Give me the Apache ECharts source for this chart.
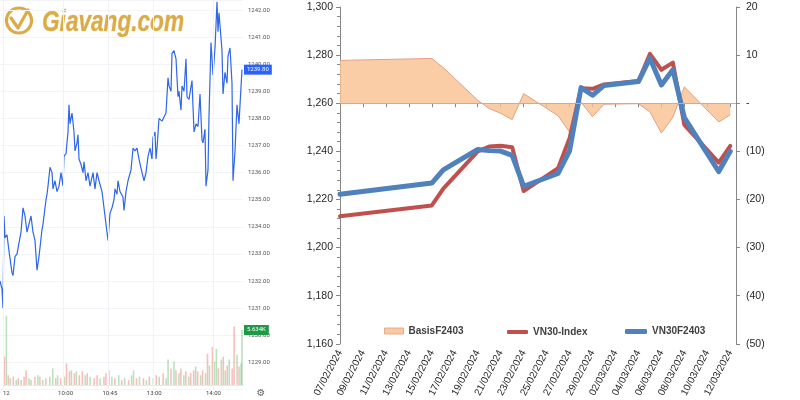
<!DOCTYPE html>
<html><head><meta charset="utf-8">
<script src="https://cdn.jsdelivr.net/npm/echarts@6/dist/echarts.min.js"></script>
<style>html,body{margin:0;padding:0;background:#fff}#c{width:800px;height:400px}</style>
</head><body><div id="c"></div>
<script>
// ---------- Right chart data ----------
const TICK_LABELS = ['07/02/2024','09/02/2024','11/02/2024','13/02/2024','15/02/2024','17/02/2024','19/02/2024','21/02/2024','23/02/2024','25/02/2024','27/02/2024','29/02/2024','02/03/2024','04/03/2024','06/03/2024','08/03/2024','10/03/2024','12/03/2024'];
const DATES = ['07/02/2024','15/02/2024','16/02/2024','19/02/2024','20/02/2024','21/02/2024','22/02/2024','23/02/2024','26/02/2024','27/02/2024','28/02/2024','29/02/2024','01/03/2024','04/03/2024','05/03/2024','06/03/2024','07/03/2024','08/03/2024','11/03/2024','12/03/2024'];
const VN30_INDEX = [1213.0,1217.5,1224.5,1240.0,1242.0,1242.3,1241.7,1223.5,1233.0,1245.5,1266.2,1266.0,1267.8,1269.2,1280.5,1273.9,1276.9,1251.0,1235.3,1242.3];
const VN30F2403 = [1222.2,1226.8,1232.3,1240.8,1240.3,1240.1,1238.3,1225.5,1230.8,1240.2,1266.5,1263.3,1267.4,1269.0,1278.7,1267.6,1273.9,1254.0,1231.6,1240.0];
const BASIS = [8.9,9.3,7.4,0.6,-1.1,-2.1,-3.4,2.0,-2.6,-6.0,0.2,-2.8,-0.2,-0.1,-1.8,-6.2,-2.9,3.4,-3.9,-2.4];

// ---------- Left (intraday) data ----------
const TIME_TICKS = [0,60,105,150,210];
const TIME_LABELS = ['12','10:00','10:45','13:00','14:00'];
const INTRADAY = [[-3,1232.0],[-1,1231.7],[0,1231.0],[1,1234.4],[2,1233.6],[4,1233.7],[6,1233.1],[9,1232.3],[10,1232.2],[12,1232.9],[14,1233.0],[15,1233.0],[18,1233.8],[20,1234.7],[22,1234.4],[24,1233.8],[28,1234.4],[30,1233.8],[32,1233.5],[34,1232.4],[36,1232.9],[39,1233.9],[40,1234.1],[43,1235.0],[44,1235.2],[45,1235.5],[47,1236.2],[49,1236.0],[50,1235.4],[52,1235.7],[54,1235.3],[56,1235.5],[58,1236.0],[60,1235.5],[61,1236.6],[63,1236.7],[65,1237.5],[66,1238.5],[67,1237.8],[69,1238.2],[71,1237.5],[72,1236.8],[74,1237.1],[75,1237.4],[76,1236.5],[78,1236.3],[80,1236.0],[81,1236.4],[83,1235.7],[85,1236.0],[87,1235.5],[90,1236.0],[92,1235.4],[94,1236.0],[96,1235.7],[99,1235.3],[100,1235.0],[103,1234.1],[105,1233.5],[107,1234.5],[109,1234.7],[111,1235.0],[112,1235.4],[114,1235.2],[115,1235.7],[117,1235.3],[120,1235.1],[121,1234.6],[123,1235.3],[125,1235.7],[128,1236.1],[130,1236.9],[132,1236.8],[134,1236.9],[136,1236.5],[139,1236.0],[141,1235.7],[143,1236.0],[145,1236.6],[147,1236.9],[149,1236.5],[150,1237.3],[152,1237.5],[153,1236.5],[154,1236.9],[156,1238.0],[159,1237.9],[161,1237.9],[163,1238.2],[165,1239.5],[166,1239.2],[168,1239.0],[169,1240.4],[171,1240.5],[173,1240.2],[175,1238.8],[176,1239.0],[178,1238.3],[179,1239.2],[181,1239.0],[183,1240.2],[184,1238.8],[186,1238.7],[188,1238.7],[189,1239.4],[191,1237.5],[193,1237.8],[195,1237.7],[197,1238.9],[199,1237.2],[200,1237.1],[202,1237.6],[203,1235.5],[205,1236.1],[206,1238.1],[208,1240.8],[210,1239.6],[212,1240.6],[214,1242.3],[215,1241.2],[216,1241.9],[219,1240.5],[220,1238.9],[222,1239.7],[224,1239.3],[225,1240.3],[227,1240.6],[229,1239.3],[230,1235.7],[232,1236.8],[234,1238.5],[236,1237.8],[237,1238.5],[239,1239.8]];
// [minute, volume (K), direction 1=up -1=down]
const VOLUME = [[-2,2.9,-1],[0,7.1,1],[2,1.0,-1],[4,0.7,1],[7,0.85,-1],[10,0.5,1],[12,0.7,-1],[15,0.5,1],[18,0.85,-1],[20,1.5,-1],[23,0.7,1],[25,0.5,1],[29,0.85,-1],[32,1.0,1],[34,0.85,-1],[37,0.5,1],[40,0.7,-1],[44,0.85,1],[47,1.7,1],[50,0.7,-1],[52,1.0,1],[55,0.7,-1],[59,0.85,1],[61,2.2,-1],[64,1.4,-1],[66,1.5,1],[69,1.2,-1],[71,1.4,1],[74,1.0,-1],[77,1.4,-1],[80,1.0,1],[82,1.2,-1],[85,0.85,1],[89,0.7,-1],[92,1.0,-1],[95,0.7,1],[99,0.85,-1],[101,1.2,-1],[104,1.5,-1],[107,0.85,1],[110,0.7,-1],[114,1.0,1],[117,0.5,-1],[120,0.7,1],[124,0.5,-1],[127,1.0,1],[129,1.5,1],[132,0.7,-1],[135,0.85,1],[139,0.7,-1],[142,0.5,1],[145,0.85,-1],[149,0.7,1],[152,1.0,-1],[155,0.85,1],[159,1.2,-1],[162,0.7,1],[164,2.6,1],[167,1.7,-1],[170,2.4,1],[172,1.5,-1],[175,1.2,1],[177,1.7,-1],[180,1.0,1],[182,1.4,-1],[185,0.85,1],[187,1.2,-1],[190,1.5,-1],[192,1.9,1],[194,1.4,-1],[197,1.0,1],[199,1.5,-1],[202,1.2,1],[204,3.2,-1],[206,2.0,1],[209,3.9,-1],[211,2.4,1],[213,3.7,1],[215,1.7,-1],[218,2.6,1],[220,2.9,-1],[222,1.5,1],[224,2.0,-1],[226,2.6,1],[229,1.7,-1],[231,6.0,-1],[234,3.1,1],[236,1.9,-1],[238,2.2,1],[239,5.634,1]];
const LAST_PRICE = 1239.8;
const LAST_VOLUME = 5.634;

function dayIndex(s){
  const p = s.split('/').map(Number);
  return Math.round((Date.UTC(p[2],p[1]-1,p[0]) - Date.UTC(2024,1,7)) / 86400000);
}
const X_DAYS = DATES.map(dayIndex);

const chart = echarts.init(document.getElementById('c'), null, {renderer:'canvas'});
const GOLD = '#dcab47';
const F = 'Liberation Sans';
const axisGray = '#868686';
const clear = 'rgba(0,0,0,0)';

chart.setOption({
  animation:false,
  textStyle:{fontFamily:F},
  grid:[
    {left:0, top:0, width:243, height:389.4},
    {left:0, top:300, width:243, height:85},
    {left:340, top:7, width:396, height:337}
  ],
  xAxis:[
    {gridIndex:0, type:'value', min:-3, max:240, show:false},
    {gridIndex:1, type:'value', min:-3, max:240,
      axisLine:{show:true, lineStyle:{color:'#e6e8ee'}}, axisTick:{show:false}, splitLine:{show:false},
      axisLabel:{customValues:TIME_TICKS, formatter:v=>TIME_LABELS[TIME_TICKS.indexOf(v)], fontSize:6, color:'#444', margin:5, fontFamily:'Roboto'}},
    {gridIndex:2, type:'value', min:0, max:34.5, interval:2,
      axisLine:{show:true, lineStyle:{color:axisGray}}, axisTick:{show:true, length:4, lineStyle:{color:axisGray}},
      splitLine:{show:false},
      axisLabel:{rotate:62, fontSize:10, color:'#262626', margin:7, showMaxLabel:false,
        formatter:v=>{const i=Math.round(v/2); return (Math.abs(v-2*i)<1e-6 && TICK_LABELS[i]) ? TICK_LABELS[i] : '';}}}
  ],
  yAxis:[
    {gridIndex:0, type:'value', position:'right', min:1228, max:1242.37, interval:1,
      axisLine:{show:false}, axisTick:{show:false},
      axisLabel:{fontSize:6, color:'#555', margin:5, showMinLabel:false, showMaxLabel:false, fontFamily:'Roboto', formatter:v=>v.toFixed(2)},
      splitLine:{show:true, lineStyle:{color:'#f3f4f7'}}},
    {gridIndex:1, type:'value', min:0, max:8.7, show:false},
    {gridIndex:2, type:'value', min:1160, max:1300, interval:20,
      axisLine:{show:true, lineStyle:{color:axisGray}}, axisTick:{show:true, length:4, lineStyle:{color:axisGray}},
      minorTick:{show:true, splitNumber:5, length:3, lineStyle:{color:axisGray}},
      splitLine:{show:false},
      axisLabel:{fontSize:10.5, color:'#262626', margin:7, formatter:v=>v.toLocaleString('en-US')}},
    {gridIndex:2, type:'value', position:'right', min:-50, max:20, interval:10,
      axisLine:{show:true, lineStyle:{color:axisGray}}, axisTick:{show:true, length:4, lineStyle:{color:axisGray}},
      splitLine:{show:false},
      axisLabel:{fontSize:10.5, color:'#262626', margin:10,
        formatter:v=> v<0 ? '('+Math.abs(v)+')' : (v===0 ? '-' : String(v))}}
  ],
  legend:[
    {data:[{name:'BasisF2403', icon:'rect', itemStyle:{color:'#FAC090', borderColor:'#e3a383', borderWidth:1, opacity:0.85}}],
      left:379, top:321, itemWidth:19, itemHeight:6, selectedMode:false,
      textStyle:{fontSize:10, fontWeight:'bold', color:'#404040', fontFamily:F}},
    {data:[{name:'VN30-Index', icon:'roundRect', itemStyle:{color:'#C0504D'}}],
      left:502, top:322, itemWidth:21, itemHeight:4, selectedMode:false,
      textStyle:{fontSize:10, fontWeight:'bold', color:'#404040', fontFamily:F}},
    {data:[{name:'VN30F2403', icon:'roundRect', itemStyle:{color:'#4F81BD'}}],
      left:620, top:321.5, itemWidth:22, itemHeight:5, selectedMode:false,
      textStyle:{fontSize:10, fontWeight:'bold', color:'#404040', fontFamily:F}}
  ],
  series:[
    {type:'line', name:'_grid', xAxisIndex:0, yAxisIndex:0, data:[], silent:true, z:1,
      markLine:{silent:true, symbol:'none', label:{show:false},
        lineStyle:{color:'#f1f2f5', type:'solid', width:1},
        data:TIME_TICKS.map(t=>({xAxis:t}))}},
    {type:'line', name:'intraday', xAxisIndex:0, yAxisIndex:0, data:INTRADAY, showSymbol:false, z:3,
      lineStyle:{color:'#2f66ea', width:1.2},
      markLine:{silent:true, symbol:'none', z:10,
        data:[{yAxis:LAST_PRICE, lineStyle:{color:clear, width:1},
          label:{show:true, position:'end', distance:1, formatter:LAST_PRICE.toFixed(2), backgroundColor:'#2962ff',
            color:'#fff', fontSize:6, padding:[2,3,2,3], fontFamily:'Roboto'}}]}},
    {type:'bar', name:'volume', xAxisIndex:1, yAxisIndex:1, barWidth:1.6,
      data:VOLUME.map(([t,v,d])=>({value:[t,v], itemStyle:{color: d>0 ? 'rgba(76,175,80,0.38)' : 'rgba(239,83,80,0.38)'}})),
      markLine:{silent:true, symbol:'none', z:10,
        data:[{yAxis:LAST_VOLUME, lineStyle:{color:clear, width:1},
          label:{show:true, position:'end', distance:1, formatter:LAST_VOLUME.toFixed(3)+'K', backgroundColor:'#1e9a46',
            color:'#fff', fontSize:6, padding:[2,3,2,3], fontFamily:'Roboto'}}]}},
    {type:'line', name:'BasisF2403', xAxisIndex:2, yAxisIndex:3,
      data:X_DAYS.map((x,i)=>[x,BASIS[i]]), showSymbol:false, z:2,
      lineStyle:{color:'#e0a083', width:1}, itemStyle:{color:'#FAC090'},
      areaStyle:{color:'#FAC090', opacity:0.8},
      markLine:{silent:true, symbol:'none', label:{show:false}, data:[{yAxis:0}],
        lineStyle:{color:'#e2a38e', width:1, type:'solid'}}},
    {type:'line', name:'VN30-Index', xAxisIndex:2, yAxisIndex:2,
      data:X_DAYS.map((x,i)=>[x,VN30_INDEX[i]]), showSymbol:false, z:3,
      lineStyle:{color:'#C0504D', width:4, cap:'round', join:'round'}, itemStyle:{color:'#C0504D'}},
    {type:'line', name:'VN30F2403', xAxisIndex:2, yAxisIndex:2,
      data:X_DAYS.map((x,i)=>[x,VN30F2403[i]]), showSymbol:false, z:4,
      lineStyle:{color:'#4F81BD', width:5, cap:'round', join:'round'}, itemStyle:{color:'#4F81BD'}}
  ],
  graphic:[
    {type:'circle', shape:{cx:19, cy:20.5, r:12.5}, style:{fill:'none', stroke:GOLD, lineWidth:3.2}},
    {type:'polyline', shape:{points:[[11,18],[18,28],[28,10]]}, style:{fill:'none', stroke:GOLD, lineWidth:3.2, lineCap:'round', lineJoin:'round'}},
    {type:'text', x:42, y:23, scaleX:0.78,
      style:{text:'Giavang.com', font:'italic bold 29px "Liberation Sans"', fill:GOLD, stroke:'#f0d48a', lineWidth:0.6, align:'left', verticalAlign:'middle'}},
    {type:'text', x:261, y:393, style:{text:'\u2699', font:'10px "DejaVu Sans"', fill:'#666', align:'center', verticalAlign:'middle'}}
  ]
});
</script></body></html>
